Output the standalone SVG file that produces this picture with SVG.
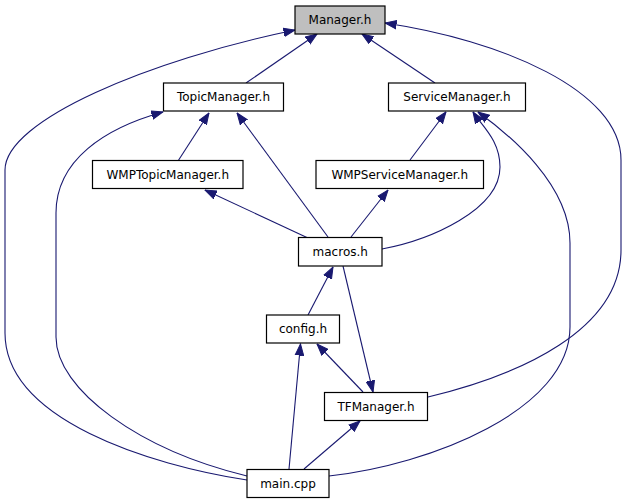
<svg xmlns="http://www.w3.org/2000/svg" width="627" height="504" viewBox="0 0 627 504">
<style>
.node rect{fill:#ffffff;stroke:#000000;stroke-width:1.2}
.node.root rect{fill:#bfbfbf}
.node text{font-family:"DejaVu Sans","Liberation Sans",sans-serif;font-size:12px;text-anchor:middle;fill:#000000}
.edges path{fill:none;stroke:#191970;stroke-width:1.1;marker-end:url(#arr)}
</style>
<defs>
<marker id="arr" markerUnits="userSpaceOnUse" markerWidth="12" markerHeight="10" viewBox="0 -5 12 10" refX="11.5" refY="0" orient="auto">
<path d="M0,-4.3 L11.5,0 L0,4.3 Z" fill="#191970" stroke="#191970" stroke-width="1"/>
</marker>
</defs>
<rect width="627" height="504" fill="#ffffff"/>
<g class="edges">
<path d="M247,480 C150,465 5,420 5,333 L5,170 C5,120 150,60 295,30"/>
<path d="M247,476 C140,450 56,390 56,337 L56,213 C56,160 105,128 163,112"/>
<path d="M428,397 C520,375 621,330 621,250 L621,160 C621,90 500,40 385,23"/>
<path d="M329,476 C430,465 570,410 570,327 L570,243 C570,185 510,135 478,112"/>
<path d="M382,249 C430,240 500,210 500,167 C500,140 482,126 473,112"/>
<path d="M246,83 L317,34"/>
<path d="M435,83 L362,34"/>
<path d="M178,161 L209,113"/>
<path d="M328,237 L237,113"/>
<path d="M410,160 L446,112"/>
<path d="M308,238 L205,190"/>
<path d="M351,237 L388,190"/>
<path d="M308,315 L333,267"/>
<path d="M343,266 L373,392"/>
<path d="M363,392 L317,344"/>
<path d="M289,469 L300.5,344"/>
<path d="M304,469 L360,421"/>
</g>
<g id="node-manager" class="node root"><rect x="295" y="6" width="90" height="28"/><text x="340" y="24">Manager.h</text></g>
<g id="node-topicmanager" class="node"><rect x="163.5" y="83" width="120" height="28"/><text x="223.5" y="101">TopicManager.h</text></g>
<g id="node-servicemanager" class="node"><rect x="388.5" y="83" width="137" height="28"/><text x="457" y="101">ServiceManager.h</text></g>
<g id="node-wmptopicmanager" class="node"><rect x="92.5" y="160.5" width="150.5" height="28"/><text x="167.75" y="178.5">WMPTopicManager.h</text></g>
<g id="node-wmpservicemanager" class="node"><rect x="316" y="160.5" width="167.5" height="28"/><text x="399.75" y="178.5">WMPServiceManager.h</text></g>
<g id="node-macros" class="node"><rect x="298.5" y="237.5" width="83.5" height="28.5"/><text x="340.25" y="256">macros.h</text></g>
<g id="node-config" class="node"><rect x="266.5" y="315" width="73" height="28"/><text x="303" y="333">config.h</text></g>
<g id="node-tfmanager" class="node"><rect x="324.5" y="392.5" width="103" height="28"/><text x="376" y="410.5">TFManager.h</text></g>
<g id="node-main" class="node"><rect x="247" y="469.5" width="82" height="28"/><text x="288" y="487.5">main.cpp</text></g>
</svg>
